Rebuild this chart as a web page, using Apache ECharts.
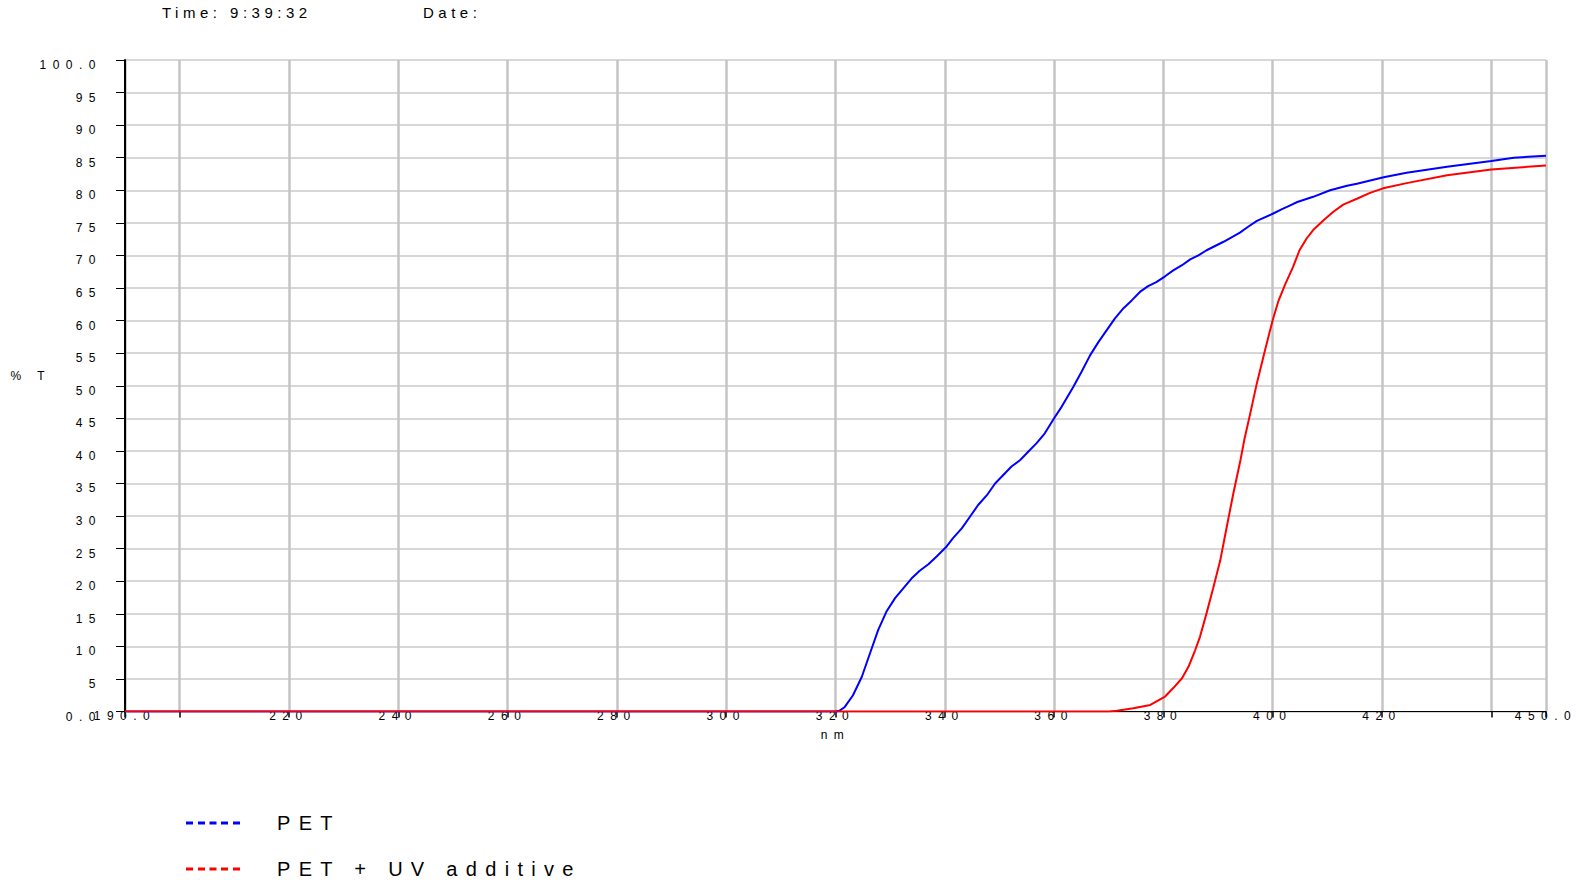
<!DOCTYPE html>
<html><head><meta charset="utf-8">
<script src="https://cdn.jsdelivr.net/npm/echarts@6/dist/echarts.min.js"></script>
<style>
html,body{margin:0;padding:0;background:#fff;}
#chart{width:1576px;height:880px;}
#chart text{letter-spacing:0.5em;}
#chart text[style*="12px"]{letter-spacing:6.5px;}
#chart text[style*="15px"]{letter-spacing:4.5px;}
#chart text[style*="20px"]{letter-spacing:8.3px;}
</style></head><body><div id="chart"></div>
<script>
// ---- data ----
const titleTime = 'Time: 9:39:32';
const titleDate = 'Date:';
const xName = 'nm';
const yName = '% T';
const seriesNames = ['PET', 'PET + UV additive'];

const petNm = [190, 320, 320.7, 321.7, 323.2, 324.8, 326.3, 327.8, 329.3, 330.9, 332.4, 333.9, 335.4, 337, 338.5, 340.2, 341.5, 343.1, 344.6, 346.1, 347.7, 349.2, 350.7, 352.2, 353.8, 355.3, 356.8, 358.3, 360, 361.4, 363.5, 365, 366.6, 368.1, 369.6, 371.1, 372.7, 374.2, 375.7, 377.2, 378.7, 380.3, 381.8, 383.4, 384.9, 386.4, 387.9, 391, 394, 395.5, 397.1, 400, 401.7, 403.2, 404.5, 407.4, 410.5, 413.6, 415.4, 420.3, 424.5, 431.9, 440, 444.1, 450];
const petT  = [0, 0, 0.1, 0.7, 2.5, 5.3, 8.9, 12.5, 15.3, 17.4, 18.9, 20.4, 21.6, 22.6, 23.8, 25.2, 26.6, 28.1, 29.9, 31.7, 33.2, 35, 36.3, 37.6, 38.6, 39.9, 41.2, 42.7, 45, 46.8, 49.8, 52.1, 54.7, 56.7, 58.5, 60.3, 61.9, 63.1, 64.4, 65.3, 65.9, 66.8, 67.7, 68.5, 69.4, 70, 70.8, 72.1, 73.5, 74.4, 75.3, 76.4, 77.1, 77.7, 78.2, 79.0, 80.0, 80.7, 81.0, 82.0, 82.7, 83.6, 84.5, 85, 85.3];

const uvNm = [190, 370, 371.5, 374.5, 377.6, 380.3, 381.8, 383.4, 384.6, 385.8, 386.7, 387.9, 389.1, 390.4, 391.6, 392.8, 394.1, 394.8, 395.9, 397.1, 398.6, 400, 401, 402.2, 403.7, 404.9, 406.2, 407.4, 409.3, 411.1, 412.9, 415.4, 417.8, 420.2, 424.5, 431.9, 440, 450];
const uvT  = [0, 0, 0.1, 0.5, 1.0, 2.3, 3.6, 5.1, 6.9, 9.4, 11.5, 15.1, 18.9, 23.2, 28.4, 33.5, 38.6, 41.7, 45.8, 50.4, 55.5, 60.1, 62.9, 65.4, 68.2, 70.8, 72.6, 73.9, 75.4, 76.7, 77.8, 78.7, 79.6, 80.3, 81.1, 82.3, 83.2, 83.8];

const xTickValues  = [190, 200, 220, 240, 260, 280, 300, 320, 340, 360, 380, 400, 420, 440, 450];
const xLabelValues = [190, 220, 240, 260, 280, 300, 320, 340, 360, 380, 400, 420, 450];
const yMin = 0, yMax = 100, yStep = 5;

// ---- chart ----
const FONT = '"Liberation Sans", Arial, sans-serif';
const dashIcon = 'path://M0 0h7v3h-7z M12 0h7v3h-7z M23.5 0h7v3h-7z M35 0h7v3h-7z M47 0h7v3h-7z';
const chart = echarts.init(document.getElementById('chart'), null, {renderer: 'svg'});

const fmtX = v => (v === 190 || v === 450) ? v.toFixed(1) : String(v);
const fmtY = v => (v === 0 || v === 100) ? v.toFixed(1) : String(v);

const legendBase = {
  orient: 'vertical',
  left: 186,
  padding: 0,
  itemWidth: 54,
  itemHeight: 3,
  icon: dashIcon,
  itemStyle: {borderWidth: 0},
  textStyle: {fontSize: 20, color: '#000', fontFamily: FONT, lineHeight: 20, padding: [0, 0, 0, 32]}
};

chart.setOption({
  animation: false,
  backgroundColor: '#ffffff',
  textStyle: {fontFamily: FONT, color: '#000'},
  title: [
    {text: titleTime, left: 157, top: 0, textStyle: {fontSize: 15, fontWeight: 'normal', color: '#000', fontFamily: FONT}},
    {text: titleDate, left: 418, top: 0, textStyle: {fontSize: 15, fontWeight: 'normal', color: '#000', fontFamily: FONT}}
  ],
  grid: {left: 125, right: 30, top: 60, bottom: 168.5, containLabel: false, outerBoundsMode: 'none'},
  legend: [
    Object.assign({}, legendBase, {top: 813, data: [seriesNames[0]]}),
    Object.assign({}, legendBase, {top: 859, data: [seriesNames[1]]})
  ],
  xAxis: {
    type: 'value',
    min: 190, max: 450,
    name: xName,
    nameLocation: 'middle',
    nameGap: 23,
    nameTextStyle: {fontSize: 12, color: '#000', verticalAlign: 'middle', fontFamily: FONT},
    axisLine: {show: true, onZero: false, lineStyle: {color: '#000', width: 1}},
    axisTick: {show: true, inside: false, length: 6, customValues: xTickValues, lineStyle: {color: '#000', width: 1.5}},
    axisLabel: {show: true, customValues: xLabelValues, formatter: fmtX, fontSize: 12, color: '#000', margin: 4, verticalAlign: 'middle', fontFamily: FONT},
    splitLine: {show: true, lineStyle: {color: '#c4c4c4', width: 2.5}}
  },
  yAxis: {
    type: 'value',
    min: yMin, max: yMax, interval: yStep,
    name: yName,
    nameLocation: 'middle',
    nameRotate: 0,
    nameGap: 74,
    nameTextStyle: {fontSize: 12, color: '#000', align: 'right', verticalAlign: 'bottom', lineHeight: 20, fontFamily: FONT},
    axisLine: {show: true, lineStyle: {color: '#000', width: 2}},
    axisTick: {show: true, inside: false, length: 9, lineStyle: {color: '#000', width: 1}},
    axisLabel: {formatter: fmtY, fontSize: 12, color: '#000', margin: 23, verticalAlign: 'top', lineHeight: 10, fontFamily: FONT},
    splitLine: {show: true, lineStyle: {color: '#cacaca', width: 1.5}}
  },
  series: [
    {
      name: seriesNames[0], type: 'line', color: '#0000ff',
      symbol: 'none', smooth: false,
      lineStyle: {color: '#0000ff', width: 2},
      data: petNm.map((x, i) => [x, petT[i]])
    },
    {
      name: seriesNames[1], type: 'line', color: '#ff0000',
      symbol: 'none', smooth: false,
      lineStyle: {color: '#ff0000', width: 2},
      data: uvNm.map((x, i) => [x, uvT[i]])
    }
  ]
});
</script>
</body></html>
